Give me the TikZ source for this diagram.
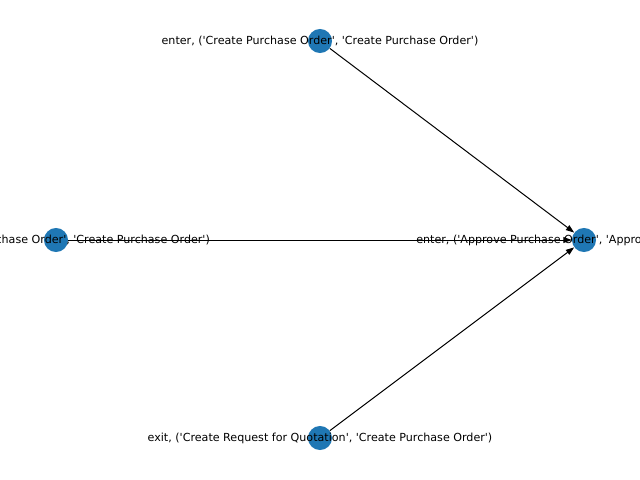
\documentclass[tikz,border=0pt]{standalone}
\usepackage{fontspec}
\setmainfont{DejaVu Sans}
\usetikzlibrary{arrows.meta}
\newcommand{\sq}{\textquotesingle}

\begin{document}
\begin{tikzpicture}[
    x=0.72pt, y=-0.72pt,
    vertex/.style={circle, fill={rgb,255:red,31;green,119;blue,180}, inner sep=0pt, minimum size=17.3pt},
    tag/.style={font=\fontsize{8}{9.6}\selectfont, inner sep=0pt},
    edge/.style={-{Triangle[length=6pt,width=4.2pt]}, line width=0.72pt}
  ]
  \useasboundingbox (0,0) rectangle (640,480);

  % vertices
  \node[vertex] (top)   at (320,41)  {};
  \node[vertex] (left)  at (56,240)  {};
  \node[vertex] (right) at (584,240) {};
  \node[vertex] (bot)   at (320,438) {};

  % edges
  \draw[edge] (top) -- (right);
  \draw[edge] (left) -- (right);
  \draw[edge] (bot) -- (right);

  % labels
  \node[tag] (ltop)   at (top)   {enter, (\sq Create Purchase Order\sq, \sq Create Purchase Order\sq)};
  \node[tag] (lleft)  at (left)  {exit, (\sq Create Purchase Order\sq, \sq Create Purchase Order\sq)};
  \node[tag] (lright) at (right) {enter, (\sq Approve Purchase Order\sq, \sq Approve Purchase Order\sq)};
  \node[tag] (lbot)   at (bot)   {exit, (\sq Create Request for Quotation\sq, \sq Create Purchase Order\sq)};
\end{tikzpicture}
\end{document}
